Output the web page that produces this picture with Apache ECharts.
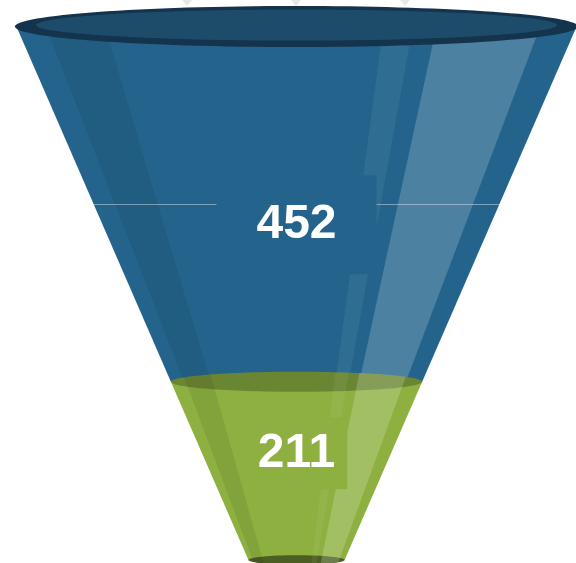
<!DOCTYPE html>
<html><head><meta charset="utf-8">
<script src="https://cdn.jsdelivr.net/npm/echarts@6/dist/echarts.min.js"></script>
<style>html,body{margin:0;padding:0;background:#fff}#c{width:576px;height:563px}</style>
</head><body><div id="c"></div>
<script>
// ---- data ----
const values = [452, 211];
const labels = ['452', '211'];

// ---- style / layout ----
const segmentColors = ['#24648c', '#8db040'];
const topEllipseColors = ['#14334c', '#6b8633'];
const rimInnerColor = '#1d4c6a';
const neckColor = '#4c5f22';
const neckValue = 90;      // value level of the funnel neck
const widthBase = 15;      // width offset of the funnel mapping
const labelPos = [0.5585, 0.402];
const labelPad = [[29, 40, 22, 40], [15, 12, 9, 12]];
const midLine = [true, false];
const bands = [
  { t0: -0.895, t1: -0.684, fill: 'rgba(0,0,0,0.075)' },
  { t0: 0.31, t1: 0.415, fill: 'rgba(255,255,255,0.06)' },
  { t0: 0.5, t1: 0.87, fill: 'rgba(255,255,255,0.19)' }
];

const data = values.map((v, i) => [v, i + 1 < values.length ? values[i + 1] : neckValue]);

function renderItem(params, api) {
  const i = params.dataIndex;
  const vTop = api.value(0), vBot = api.value(1);
  const last = i === values.length - 1;
  const pT = api.coord([0, vTop]), pB = api.coord([0, vBot]);
  const cx = pT[0], yT = pT[1], yB = pB[1];
  const hw = v => api.coord([(v - widthBase) / 2, v])[0] - cx;
  const rT = hw(vTop), rB = hw(vBot);
  const ryOf = r => 0.068 * r + 1.5;
  const ryT = ryOf(rT), ryB = ryOf(rB);
  const xAt = (t, y) => cx + t * (rT + (rB - rT) * (y - yT) / (yB - yT));
  const base = segmentColors[i];
  const ch = [];
  ch.push({ type: 'polygon', shape: { points: [[cx - rT, yT], [cx + rT, yT], [cx + rB, yB], [cx - rB, yB]] }, style: { fill: base } });
  if (last) ch.push({ type: 'ellipse', shape: { cx: cx, cy: yB, rx: rB, ry: ryB }, style: { fill: neckColor } });
  if (i > 0) ch.push({ type: 'ellipse', shape: { cx: cx, cy: yT, rx: rT, ry: ryT }, style: { fill: topEllipseColors[i] } });
  const N = 24;
  bands.forEach(b => {
    const pts = [];
    for (let k = 0; k <= N; k++) {
      const t = b.t0 + (b.t1 - b.t0) * k / N;
      const y = i > 0 ? yT - ryT * Math.sqrt(1 - t * t) : yT;
      pts.push([cx + t * rT, y]);
    }
    for (let k = N; k >= 0; k--) {
      const t = b.t0 + (b.t1 - b.t0) * k / N;
      const y = last ? yB + ryB * Math.sqrt(1 - t * t) : yB;
      pts.push([cx + t * rB, y]);
    }
    ch.push({ type: 'polygon', shape: { points: pts }, style: { fill: b.fill } });
  });
  if (midLine[i]) {
    const y = Math.round(yT + 0.5 * (yB - yT)) + 0.5;
    ch.push({ type: 'line', shape: { x1: xAt(-1, y), y1: y, x2: xAt(1, y), y2: y }, style: { stroke: 'rgba(255,255,255,0.4)', lineWidth: 1 } });
  }
  ch.push({
    type: 'text', x: cx, y: yT + labelPos[i] * (yB - yT),
    style: {
      text: labels[i], fill: '#ffffff', font: 'bold 48px "Liberation Sans", Arial, sans-serif',
      align: 'center', verticalAlign: 'middle', backgroundColor: base, padding: labelPad[i]
    }
  });
  if (i === 0) {
    ch.push({ type: 'ellipse', shape: { cx: cx, cy: yT, rx: rT + 1.5, ry: ryT }, style: { fill: topEllipseColors[0] } });
    ch.push({ type: 'ellipse', shape: { cx: cx, cy: yT - 1.5, rx: rT * 0.93, ry: ryT * 0.76 }, style: { fill: rimInnerColor } });
  }
  return { type: 'group', children: ch };
}

const chart = echarts.init(document.getElementById('c'), null, { renderer: 'canvas' });
const xMin = -231.3, xMax = 218.0;
chart.setOption({
  backgroundColor: '#ffffff',
  animation: false,
  grid: { left: 0, right: 0, top: 26.5, bottom: 3 },
  xAxis: { type: 'value', min: xMin, max: xMax, show: false },
  yAxis: { type: 'value', min: neckValue, max: Math.max(...values), show: false },
  graphic: [187, 296, 405].map(x => ({
    type: 'polygon', shape: { points: [[x - 5, 0], [x + 5, 0], [x, 6]] }, style: { fill: '#e8e8e8' }, z: -1
  })),
  series: [{
    type: 'custom',
    renderItem: renderItem,
    data: data,
    clip: false
  }]
});
</script>
</body></html>
